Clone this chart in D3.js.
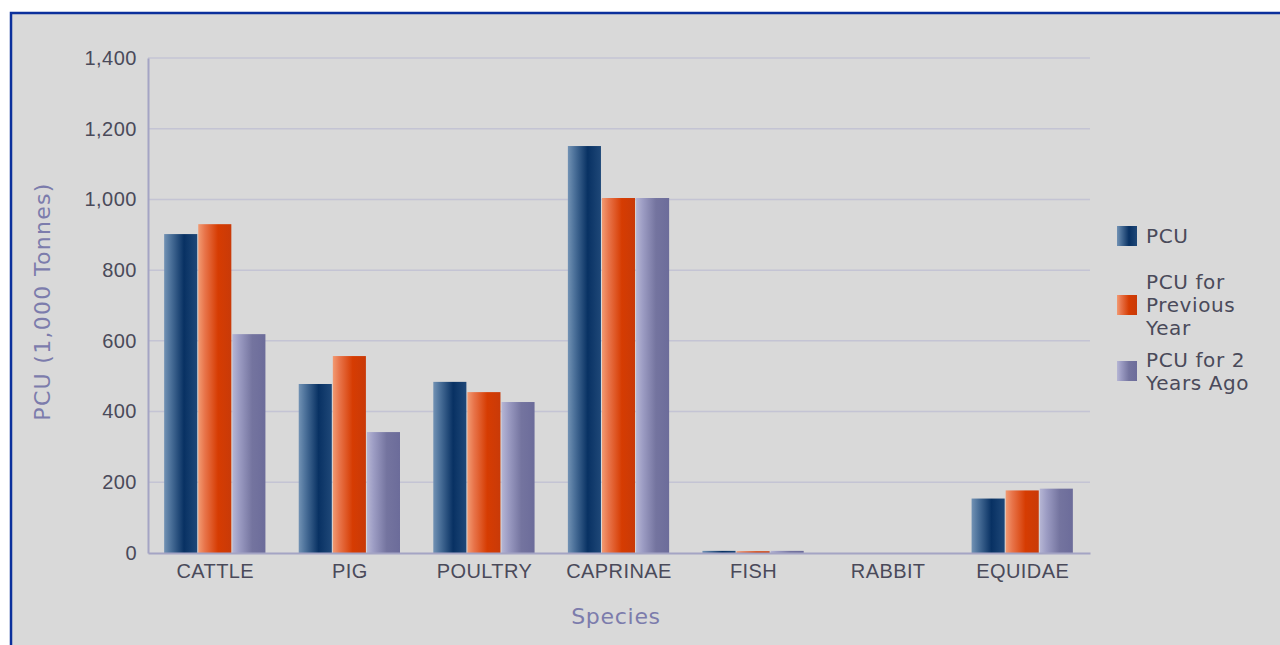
<!DOCTYPE html>
<html>
<head>
<meta charset="utf-8">
<script src="https://cdn.jsdelivr.net/npm/d3@7"></script>
<style>
  body { margin: 0; background: #ffffff; }
  svg { display: block; font-family: "DejaVu Sans", sans-serif; }
</style>
</head>
<body>
<div id="chart"></div>
<script>
// data
var species = ["CATTLE", "PIG", "POULTRY", "CAPRINAE", "FISH", "RABBIT", "EQUIDAE"];
var pcu = [902, 478, 484, 1151, 6, 0, 154];
var pcuPrev = [930, 557, 455, 1004, 5, 0, 177];
var pcu2Yr = [619, 342, 427, 1004, 6, 0, 182];
var seriesNames = ["PCU", "PCU for Previous Year", "PCU for 2 Years Ago"];
var yTicks = [0, 200, 400, 600, 800, 1000, 1200, 1400];

var svgWidth = 1280;
var svgHeight = 645;

var margin = { top: 58, right: 190, bottom: 92, left: 148 };
var plotWidth = svgWidth - margin.left - margin.right;
var plotHeight = svgHeight - margin.top - margin.bottom;

var svg = d3.select("#chart").append("svg")
  .attr("width", svgWidth)
  .attr("height", svgHeight);

// gradients for the shaded bars
var defs = svg.append("defs");
var gradStops = [
  [["0%", "#7292b4"], ["20%", "#4c719a"], ["60%", "#083163"], ["100%", "#1f4878"]],
  [["0%", "#f29a72"], ["20%", "#e8744a"], ["60%", "#d63c02"], ["100%", "#c93a08"]],
  [["0%", "#b6b6d4"], ["20%", "#9d9dc4"], ["60%", "#74749f"], ["100%", "#6c6c9a"]]
];
gradStops.forEach(function(stops, i) {
  var g = defs.append("linearGradient")
    .attr("id", "grad" + i)
    .attr("x1", "0%").attr("x2", "100%")
    .attr("y1", "0%").attr("y2", "0%");
  stops.forEach(function(s) {
    g.append("stop").attr("offset", s[0]).attr("stop-color", s[1]);
  });
});

// panel background + blue frame
svg.append("rect")
  .attr("x", 11).attr("y", 13)
  .attr("width", svgWidth + 20).attr("height", svgHeight + 20)
  .attr("fill", "#d9d9d9")
  .attr("stroke", "#0b309c")
  .attr("stroke-width", 2.5);

var chartGroup = svg.append("g")
  .attr("transform", `translate(${margin.left}, ${margin.top})`);

var xScale = d3.scaleBand()
  .domain(species)
  .range([0, plotWidth])
  .paddingInner(0.24)
  .paddingOuter(0.12);

var subScale = d3.scaleBand()
  .domain(d3.range(3))
  .range([0, xScale.bandwidth()])
  .padding(0);

var yScale = d3.scaleLinear()
  .domain([0, 1400])
  .range([plotHeight, 0]);

// gridlines
chartGroup.append("g")
  .selectAll("line")
  .data(yTicks.slice(1))
  .enter()
  .append("line")
  .attr("x1", 0)
  .attr("x2", plotWidth)
  .attr("y1", d => yScale(d))
  .attr("y2", d => yScale(d))
  .attr("stroke", "#c4c4d4")
  .attr("stroke-width", 1.5);

// y axis
var leftAxis = d3.axisLeft(yScale)
  .tickValues(yTicks)
  .tickSize(0)
  .tickPadding(11)
  .tickFormat(d3.format(","));

var yAxis = chartGroup.append("g").call(leftAxis);
yAxis.select(".domain").attr("stroke", "#a4a4c4").attr("stroke-width", 2);
yAxis.selectAll("text")
  .attr("font-size", "20px")
  .attr("letter-spacing", "0.5px")
  .attr("fill", "#4a4a5a");

// bars
var allSeries = [pcu, pcuPrev, pcu2Yr];
var groups = chartGroup.selectAll(".grp")
  .data(species)
  .enter()
  .append("g")
  .attr("class", "grp")
  .attr("transform", d => `translate(${xScale(d)}, 0)`);

groups.selectAll("rect")
  .data((d, i) => allSeries.map((s, k) => ({ k: k, v: s[i] })))
  .enter()
  .append("rect")
  .attr("x", d => subScale(d.k))
  .attr("width", subScale.bandwidth() - 1)
  .attr("y", d => yScale(d.v))
  .attr("height", d => plotHeight - yScale(d.v))
  .attr("fill", d => `url(#grad${d.k})`);

// x axis
var bottomAxis = d3.axisBottom(xScale)
  .tickSize(0)
  .tickPadding(11);

var xAxis = chartGroup.append("g")
  .attr("transform", `translate(0, ${plotHeight})`)
  .call(bottomAxis);
xAxis.select(".domain").attr("stroke", "#a4a4c4").attr("stroke-width", 2);
xAxis.selectAll("text")
  .attr("font-size", "20px")
  .attr("letter-spacing", "0.4px")
  .attr("fill", "#4a4a5a");

// axis titles
chartGroup.append("text")
  .attr("x", plotWidth / 2 - 3)
  .attr("y", plotHeight + 71)
  .attr("text-anchor", "middle")
  .attr("font-size", "22px")
  .attr("letter-spacing", "0.7px")
  .attr("fill", "#7c7cac")
  .text("Species");

chartGroup.append("text")
  .attr("transform", "rotate(-90)")
  .attr("x", -(plotHeight / 2) + 4)
  .attr("y", -98)
  .attr("text-anchor", "middle")
  .attr("font-size", "22px")
  .attr("letter-spacing", "1.3px")
  .attr("fill", "#7c7cac")
  .text("PCU (1,000 Tonnes)");

// legend
var legendLines = [["PCU"], ["PCU for", "Previous", "Year"], ["PCU for 2", "Years Ago"]];
var legendY = [236, 305, 371];
var legend = svg.append("g");
legendLines.forEach(function(lines, i) {
  legend.append("rect")
    .attr("x", 1117)
    .attr("y", legendY[i] - 10)
    .attr("width", 20)
    .attr("height", 20)
    .attr("fill", `url(#grad${i})`);
  var t = legend.append("text")
    .attr("x", 1146)
    .attr("y", legendY[i] - (lines.length - 1) * 11.5)
    .attr("font-size", "20px")
    .attr("letter-spacing", "0.6px")
    .attr("fill", "#4a4a5a")
    .attr("dominant-baseline", "central");
  lines.forEach(function(l, j) {
    t.append("tspan")
      .attr("x", 1146)
      .attr("dy", j === 0 ? 0 : 23)
      .text(l);
  });
});
</script>
</body>
</html>
